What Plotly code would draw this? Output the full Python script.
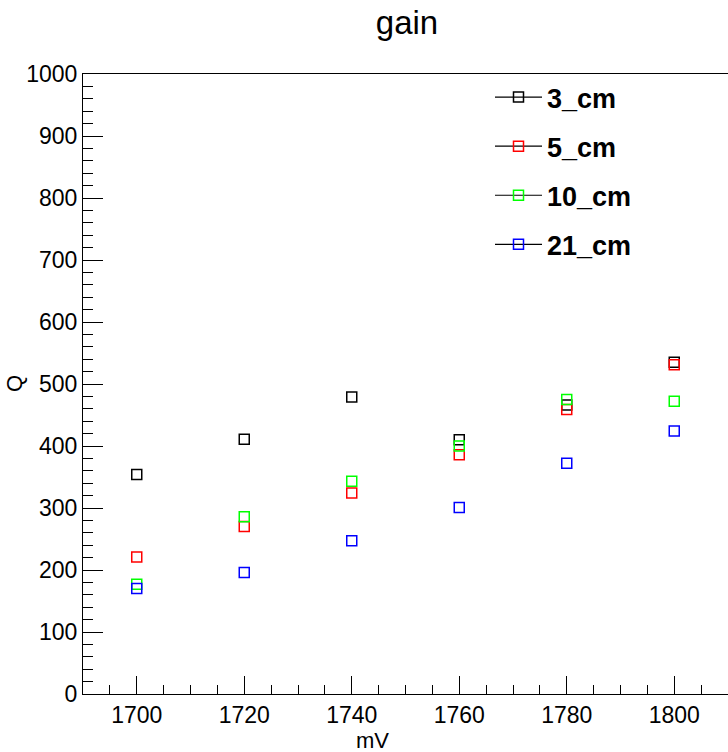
import plotly.graph_objects as go

voltage_mv = [1700, 1720, 1740, 1760, 1780, 1800]
q_3cm = [354, 411, 479, 410, 466, 535]
q_5cm = [221, 270, 324, 386, 459, 531]
q_10cm = [177, 286, 343, 400, 475, 472]
q_21cm = [170, 196, 247, 301, 372, 424]

series_names = ["3_cm", "5_cm", "10_cm", "21_cm"]
series_values = [q_3cm, q_5cm, q_10cm, q_21cm]
series_colors = ["#000000", "#ff0000", "#00ff00", "#0000ff"]

W, H = 728, 752
L, R, T, B = 83, 0, 74, 58
PW, PH = W - L - R, H - T - B


def px_x(x):
    return (x - L) / PW


def px_y(y):
    return (H - B - y) / PH


def gapped(xs, ys):
    gx, gy = [], []
    for a, b in zip(xs, ys):
        gx += [a, None]
        gy += [b, None]
    return gx, gy


fig = go.Figure()
for name, vals, col in zip(series_names, series_values, series_colors):
    gx, gy = gapped(voltage_mv, vals)
    fig.add_trace(go.Scatter(
        x=gx, y=gy, name=name, mode="lines+markers", connectgaps=False,
        legendgroup=name,
        line=dict(color="#000000", width=1.2),
        marker=dict(symbol="square-open", size=10, color=col,
                    line=dict(color=col, width=1.5)),
    ))

font_family = "Liberation Sans, Arial, sans-serif"

fig.update_layout(
    width=W, height=H,
    margin=dict(l=L, r=R, t=T, b=B),
    paper_bgcolor="white", plot_bgcolor="white",
    font=dict(family=font_family, color="black"),
    title=dict(text="gain", x=407 / W, xanchor="center", xref="container",
               y=1 - 22 / H, yanchor="middle", yref="container",
               font=dict(size=33, family=font_family, color="black")),
    showlegend=True,
    legend=dict(x=px_x(490), y=px_y(73), xanchor="left", yanchor="top",
                bgcolor="rgba(0,0,0,0)", borderwidth=0,
                font=dict(size=27, family=font_family, color="black", weight="bold"),
                tracegroupgap=11, itemwidth=47),
    xaxis=dict(range=[1690, 1810], tick0=1700, dtick=20,
               showgrid=False, zeroline=False,
               showline=True, linecolor="black", linewidth=1, mirror=True,
               ticks="inside", ticklen=18, tickcolor="black", tickwidth=1,
               minor=dict(ticks="inside", ticklen=9, dtick=5, tick0=1700,
                          tickcolor="black", showgrid=False),
               tickfont=dict(size=23, family=font_family, color="black")),
    yaxis=dict(range=[0, 1000], tick0=0, dtick=100,
               showgrid=False, zeroline=False,
               showline=True, linecolor="black", linewidth=1, mirror=False,
               ticks="inside", ticklen=20, tickcolor="black", tickwidth=1,
               minor=dict(ticks="inside", ticklen=10, dtick=20, tick0=0,
                          tickcolor="black", showgrid=False),
               tickfont=dict(size=23, family=font_family, color="black")),
    annotations=[
        dict(text="mV", xref="paper", yref="paper", x=px_x(372), y=px_y(740),
             xanchor="center", yanchor="middle", showarrow=False,
             font=dict(size=22, family=font_family, color="black")),
        dict(text="Q", xref="paper", yref="paper", x=px_x(14), y=px_y(384),
             xanchor="center", yanchor="middle", showarrow=False, textangle=-90,
             font=dict(size=22, family=font_family, color="black")),
    ],
)

fig.write_html(
    "out.html",
    config={"displayModeBar": False},
    post_script="document.body.style.margin='0';document.body.style.overflow='hidden';",
)
